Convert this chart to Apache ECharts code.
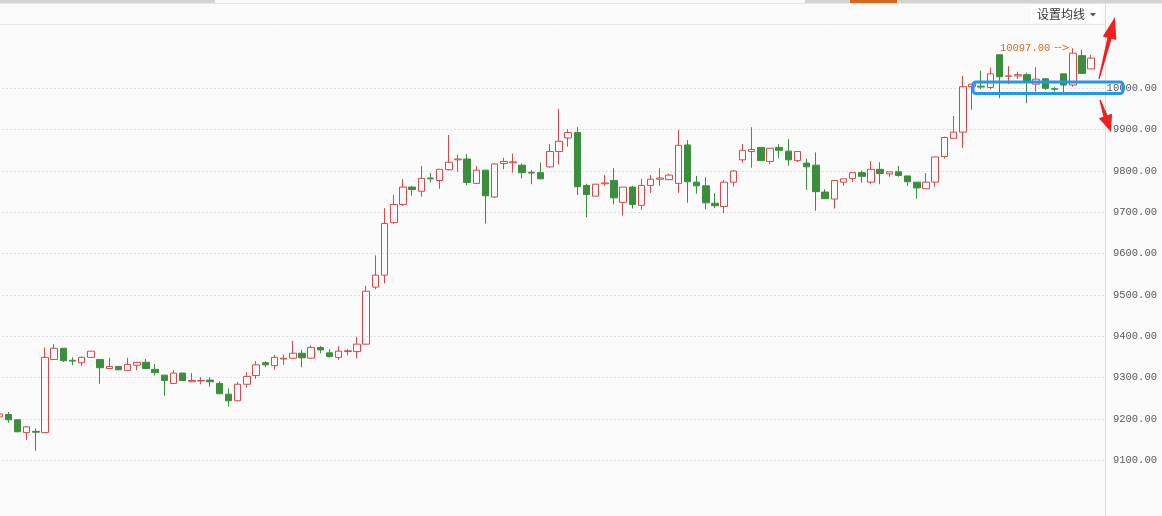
<!DOCTYPE html>
<html>
<head>
<meta charset="utf-8">
<script src="https://cdn.jsdelivr.net/npm/echarts@6/dist/echarts.min.js"></script>
<style>
html,body{margin:0;padding:0;background:#fafafa;}
#chart{width:1162px;height:516px;}
</style>
</head>
<body>
<div id="chart"></div>
<script>
// Candle index labels (no visible x labels in the reference)
const categories = Array.from({length: 121}, (_, i) => String(i + 1));
const openP = [9205,9211,9198,9167,9170,9167,9344,9371,9342,9336,9349,9344,9322,9327,9317,9330,9337,9320,9306,9286,
  9311,9290,9292,9294,9286,9260,9244,9284,9305,9336,9329,9345,9347,9359,9347,9373,9360,9349,9363,9363,
  9381,9519,9548,9675,9719,9761,9751,9783,9777,9803,9827,9829,9770,9802,9737,9818,9820,9814,9797,9796,
  9810,9847,9880,9893,9765,9739,9769,9777,9724,9761,9717,9765,9780,9779,9770,9863,9773,9764,9722,9714,
  9773,9827,9847,9857,9823,9857,9848,9825,9819,9814,9749,9732,9773,9782,9796,9773,9804,9793,9798,9788,
  9773,9757,9773,9835,9879,9894,10004,10005,10002,10081,10029,10030,10033,10010,10023,9999,10035,10008,10079,10047];
const closeP = [9212,9198,9169,9181,9168,9349,9371,9341,9340,9349,9364,9324,9327,9319,9332,9337,9322,9312,9293,9311,
  9293,9293,9293,9290,9261,9244,9284,9303,9331,9331,9349,9347,9359,9348,9373,9367,9351,9364,9365,9381,
  9509,9548,9673,9719,9761,9755,9782,9781,9804,9821,9829,9772,9802,9740,9817,9823,9822,9796,9795,9781,
  9847,9872,9893,9762,9743,9768,9771,9735,9761,9719,9765,9780,9783,9790,9862,9774,9764,9723,9716,9773,
  9800,9850,9852,9825,9855,9850,9827,9847,9810,9750,9733,9777,9781,9796,9787,9804,9794,9798,9789,9774,
  9759,9773,9834,9881,9894,10004,10010,10003,10035,10028,10030,10033,10016,10022,10000,9998,10008,10085,10036,10073];
const lowP = [9203,9191,9168,9149,9123,9166,9343,9338,9330,9328,9349,9285,9321,9318,9316,9318,9321,9305,9256,9285,
  9292,9289,9284,9278,9260,9230,9243,9276,9297,9325,9319,9331,9346,9325,9346,9359,9348,9343,9354,9347,
  9380,9514,9528,9672,9715,9740,9738,9772,9757,9801,9798,9766,9769,9673,9735,9804,9796,9782,9768,9780,
  9808,9816,9859,9742,9688,9739,9764,9719,9692,9709,9706,9747,9764,9778,9747,9723,9745,9707,9710,9698,
  9762,9820,9808,9825,9816,9831,9813,9822,9754,9704,9733,9709,9764,9773,9772,9768,9768,9786,9786,9764,
  9733,9757,9762,9830,9879,9856,9948,9998,9998,9976,10010,10023,9964,9992,9996,9992,9986,10004,10036,10047];
const highP = [9214,9217,9198,9182,9177,9373,9381,9371,9349,9351,9364,9344,9348,9327,9348,9338,9345,9333,9306,9318,
  9311,9311,9301,9301,9291,9274,9290,9313,9340,9340,9355,9356,9389,9367,9378,9376,9369,9376,9369,9399,
  9522,9596,9710,9742,9780,9764,9812,9795,9805,9887,9839,9841,9812,9802,9819,9832,9842,9818,9802,9820,
  9865,9950,9901,9906,9769,9768,9790,9807,9761,9764,9781,9790,9807,9793,9899,9875,9788,9785,9746,9778,
  9802,9865,9906,9857,9855,9865,9877,9847,9830,9845,9756,9777,9781,9796,9801,9824,9821,9798,9812,9788,
  9773,9795,9834,9883,9933,10030,10011,10043,10050,10081,10054,10040,10038,10051,10024,10004,10035,10097,10093,10081];
const yTicks = {min: 9100, max: 10000, step: 100};

const upColor = '#d24b4b';
const downColor = '#3b8e3b';

const candleData = openP.map((o, i) => [o, closeP[i], lowP[i], highP[i]]);

function arrowPoints(sx, sy, tx, ty, headLen, headHalf, w0, w1) {
  const dx = tx - sx, dy = ty - sy;
  const L = Math.sqrt(dx*dx + dy*dy);
  const ux = dx / L, uy = dy / L;
  const nx = -uy, ny = ux;
  const bx = tx - ux * headLen, by = ty - uy * headLen;
  return [
    [sx + nx*w0, sy + ny*w0],
    [bx + nx*w1, by + ny*w1],
    [bx + nx*headHalf, by + ny*headHalf],
    [tx, ty],
    [bx - nx*headHalf, by - ny*headHalf],
    [bx - nx*w1, by - ny*w1],
    [sx - nx*w0, sy - ny*w0]
  ];
}

const monoFont = "'Liberation Mono', 'DejaVu Sans Mono', monospace";

const chart = echarts.init(document.getElementById('chart'), null, {renderer: 'canvas'});
const option = {
  backgroundColor: '#fafafa',
  animation: false,
  grid: [
    {left: -5.45, right: 57, top: 24, bottom: 0, outerBoundsMode: 'none'},
    {left: -5.45, right: 57, top: 88.3, bottom: 55.7, outerBoundsMode: 'none'}
  ],
  xAxis: [
    {type: 'category', gridIndex: 0, data: categories, boundaryGap: true, show: false},
    {type: 'category', gridIndex: 1, data: categories, boundaryGap: true, show: false}
  ],
  yAxis: [
    {type: 'value', gridIndex: 0, position: 'right', min: 8965.2, max: 10155.6, scale: true,
     axisLine: {show: false}, axisTick: {show: false}, axisLabel: {show: false}, splitLine: {show: false}},
    {type: 'value', gridIndex: 1, position: 'right', min: yTicks.min, max: yTicks.max, interval: yTicks.step,
     axisLine: {show: false}, axisTick: {show: false},
     axisLabel: {formatter: v => v.toFixed(2), align: 'right', margin: 52, color: '#5a5a5a',
                 fontFamily: monoFont, fontSize: 10.5},
     splitLine: {show: true, lineStyle: {color: '#c4c4c4', type: [1, 3], width: 1}}}
  ],
  series: [{
    type: 'candlestick',
    xAxisIndex: 0, yAxisIndex: 0,
    data: candleData,
    barWidth: 7,
    itemStyle: {
      color: 'rgba(0,0,0,0)', color0: downColor,
      borderColor: upColor, borderColor0: downColor, borderWidth: 1
    },
    markPoint: {
      symbol: 'circle', symbolSize: 0,
      data: [{type: 'max', valueDim: 'highest'}],
      label: {show: true, position: 'left', distance: 3,
              formatter: p => '{a|' + p.value.toFixed(2) + '}{b|--}{c|>}',
              rich: {
                a: {color: '#d2691e', fontFamily: monoFont, fontSize: 10.5, padding: [0, 4, 0, 0]},
                b: {color: '#d2691e', fontFamily: 'DejaVu Sans', fontSize: 10, padding: [0, 0, 1, 0]},
                c: {color: '#d2691e', fontFamily: 'DejaVu Sans', fontSize: 10}
              }}
    }
  }],
  graphic: [
    {type: 'rect', shape: {x: 0, y: 0, width: 215, height: 3}, style: {fill: '#d3d3d3'}, silent: true},
    {type: 'rect', shape: {x: 805, y: 0, width: 357, height: 3}, style: {fill: '#d3d3d3'}, silent: true},
    {type: 'rect', shape: {x: 850, y: 0, width: 47, height: 3}, style: {fill: '#d2691e'}, silent: true},
    {type: 'line', shape: {x1: 0, y1: 3.5, x2: 1162, y2: 3.5}, style: {stroke: '#e6e6e6', lineWidth: 1}, silent: true},
    {type: 'line', shape: {x1: 0, y1: 24.5, x2: 1105, y2: 24.5}, style: {stroke: '#e8e8e8', lineWidth: 1}, silent: true},
    {type: 'line', shape: {x1: 1105.5, y1: 3, x2: 1105.5, y2: 516}, style: {stroke: '#dcdcdc', lineWidth: 1}, silent: true},
    {type: 'rect', shape: {x: 1031, y: 5, width: 70, height: 18}, style: {fill: '#ffffff'}, silent: true},
    {type: 'text', x: 1037, y: 14, style: {text: '设置均线', fill: '#333', font: '12px "Noto Sans CJK SC"', textVerticalAlign: 'middle'}, silent: true},
    {type: 'polygon', shape: {points: [[1090, 13], [1096, 13], [1093, 16.5]]}, style: {fill: '#555'}, silent: true},
    {type: 'rect', shape: {x: 973, y: 82, width: 150, height: 11.5, r: 3}, style: {fill: 'none', stroke: '#2596ef', lineWidth: 3}, z: 100, silent: true},
    {type: 'polygon', shape: {points: arrowPoints(1099, 79, 1115, 17, 22, 7, 0.6, 2.2)}, style: {fill: '#f21f1f'}, z: 100, silent: true},
    {type: 'polygon', shape: {points: arrowPoints(1100, 100, 1111, 132, 17, 7, 0.6, 2.2)}, style: {fill: '#f21f1f'}, z: 100, silent: true}
  ]
};
chart.setOption(option);
</script>
</body>
</html>
